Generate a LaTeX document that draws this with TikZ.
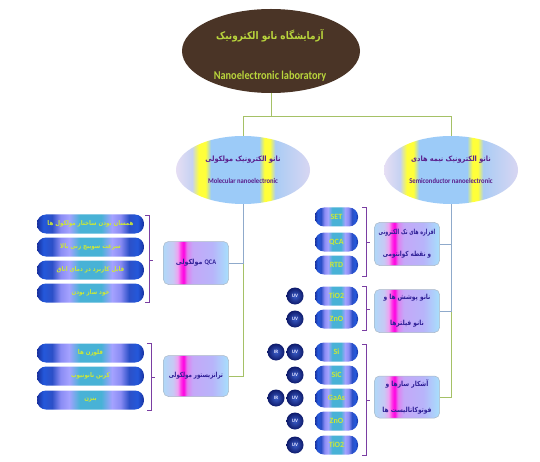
\documentclass[tikz,border=0pt]{standalone}
\usepackage{fontspec}
\usepackage{graphicx}
\setmainfont{Carlito}
\newfontfamily\arabicfont[Script=Arabic]{DejaVu Sans}
\TeXXeTstate=1
\usetikzlibrary{shapes.geometric}
\newcommand\fasq[2]{\scalebox{#1}[1]{\arabicfont #2}}

\definecolor{woodc}{HTML}{4A3426}
\definecolor{woodl}{HTML}{6A4C38}
\definecolor{limec}{HTML}{B9D53C}
\definecolor{conGc}{HTML}{A5C166}
\definecolor{conBc}{HTML}{8FAACB}
\definecolor{brkc}{HTML}{7A3EA2}
\definecolor{ptxt}{HTML}{5A1E8C}
\definecolor{btxt}{HTML}{2E1F96}
\definecolor{bartxt}{HTML}{CDE836}
% ellipse shading colours
\definecolor{ea}{HTML}{E6DEF4}
\definecolor{eb}{HTML}{C6D2F2}
\definecolor{ey}{HTML}{FFFF3A}
\definecolor{es}{HTML}{9CCBF8}
\definecolor{ec}{HTML}{AACCF4}
\definecolor{ed}{HTML}{D8D6F2}
% box shading colours
\definecolor{ba}{HTML}{B0D8F8}
\definecolor{bb}{HTML}{C8C8F4}
\definecolor{bc}{HTML}{F0A0F0}
\definecolor{bd}{HTML}{FF30E6}
\definecolor{bx}{HTML}{FF00E0}
\definecolor{be}{HTML}{E080F0}
\definecolor{bf}{HTML}{C4A8F8}
\definecolor{bg}{HTML}{B8B4FA}
\definecolor{bh}{HTML}{A8E0FC}
% bar shading colours
\definecolor{ra}{HTML}{18309E}
\definecolor{rb}{HTML}{2458DA}
\definecolor{rc}{HTML}{2C50C8}
\definecolor{rd}{HTML}{8A8CF4}
\definecolor{re}{HTML}{A4A2FF}
\definecolor{rf}{HTML}{48B2D6}
\definecolor{uvin}{HTML}{3A5CC8}
\definecolor{uvout}{HTML}{0E1A6A}

\pgfdeclarehorizontalshading{ellsh}{100bp}{color(0bp)=(ea); color(25bp)=(ea); color(31bp)=(eb); color(33.5bp)=(ey); color(36bp)=(ey); color(38bp)=(es); color(56bp)=(es); color(58bp)=(ey); color(60bp)=(ey); color(62bp)=(ec); color(75bp)=(ed); color(100bp)=(ed)}
\pgfdeclarehorizontalshading{boxsh}{100bp}{color(0bp)=(ba); color(25bp)=(ba); color(32.5bp)=(bb); color(36bp)=(bc); color(38.5bp)=(bd); color(40.5bp)=(bx); color(43bp)=(be); color(47.5bp)=(bf); color(62.5bp)=(bg); color(75bp)=(bh); color(100bp)=(bh)}
\pgfdeclarehorizontalshading{barsh}{100bp}{color(0bp)=(ra); color(25bp)=(ra); color(28bp)=(rb); color(32bp)=(rc); color(36bp)=(rd); color(40bp)=(re); color(45bp)=(rf); color(55bp)=(rf); color(60bp)=(re); color(64bp)=(rd); color(68bp)=(rc); color(72bp)=(rb); color(75bp)=(ra); color(100bp)=(ra)}

\tikzset{
  topell/.style={ellipse, fill=woodc, minimum width=178pt, minimum height=84pt, inner sep=0pt,
    path picture={
      \foreach \yy/\aa in {14/3, 22/-4, 31/5, 41/-3, 50/4, 60/-5, 70/3, 82/-2, 90/4}
        \draw[woodl, line width=0.9pt, opacity=0.8] (175,\yy) .. controls (230,\yy+\aa) and (310,\yy-\aa) .. (370,\yy);
    }},
  ell/.style={ellipse, shade, shading=ellsh, minimum width=134pt, minimum height=68pt, inner sep=0pt,
    align=center, text=ptxt, font=\bfseries\fontsize{7.3}{22}\selectfont},
  cbox/.style={rectangle, rounded corners=5pt, shade, shading=boxsh, draw=conBc!80!black!60, line width=0.5pt,
    minimum width=65pt, minimum height=43pt, inner sep=1pt, align=center, text=btxt,
    font=\bfseries\fontsize{7}{26}\selectfont},
  bar/.style={rectangle, rounded corners=9pt, shade, shading=barsh, minimum height=19pt, inner sep=0pt,
    text=bartxt},
  lbar/.style={bar, minimum width=107pt, font=\bfseries\fontsize{6.5}{7}\selectfont},
  sbar/.style={bar, minimum width=43pt, font=\bfseries\fontsize{8}{9}\selectfont},
  ray/.style={circle, minimum size=17pt, inner sep=0pt, inner color=uvin, outer color=uvout,
    text=white!90!blue, font=\bfseries\fontsize{5}{6}\selectfont},
  brk/.style={draw=brkc, line width=0.7pt},
  conB/.style={draw=conBc, line width=0.8pt},
  conG/.style={draw=conGc, line width=0.8pt},
}

\begin{document}
\begin{tikzpicture}[x=1pt, y=-1pt]
\useasboundingbox (0,0) rectangle (540,462);
\fill[white] (0,0) rectangle (540,462);

% top
\node[topell] (top) at (271,51) {};
\node[text=limec, font=\bfseries\fontsize{10.5}{11}\selectfont] (topfa) at (270,36) {\fasq{0.85}{\beginR آزمایشگاه نانو الکترونیک\endR}};
\node[text=limec, font=\bfseries\fontsize{12}{13}\selectfont] (topen) at (270,76) {\scalebox{0.86}[1]{Nanoelectronic laboratory}};

% level 1 ellipses
\node[ell] (ellL) at (243,170) {\fasq{0.9}{\beginR نانو الکترونیک مولکولی\endR}\\\scalebox{0.9}[1]{Molecular nanoelectronic}};
\node[ell] (ellR) at (451,170) {\fasq{0.9}{\beginR نانو الکترونیک نیمه هادی\endR}\\\scalebox{0.9}[1]{Semiconductor nanoelectronic}};

% level 2 boxes left
\node[cbox] (qca) at (196,263) {\fasq{0.9}{\beginR\beginL{\normalfont\bfseries QCA}\endL{} مولکولی\endR}};
\node[cbox, minimum height=41pt] (trans) at (196,376) {\fasq{0.78}{\beginR ترانزیستور مولکولی\endR}};

% level 2 boxes right
\node[cbox, font=\bfseries\fontsize{7}{22}\selectfont] (boxA) at (407,244) {\fasq{0.68}{\beginR افزاره های تک الکترونی\endR}\\\fasq{0.8}{\beginR و نقطه کوانتومی\endR}};
\node[cbox] (boxB) at (407,311) {\fasq{0.85}{\beginR نانو پوشش ها و\endR}\\\fasq{0.85}{\beginR نانو فیلترها\endR}};
\node[cbox, minimum height=42pt] (boxC) at (407,397) {\fasq{0.85}{\beginR آشکار سازها و\endR}\\\fasq{0.85}{\beginR فوتوکاتالیست ها\endR}};

% left bars group 1
\node[lbar] (l1) at (90.5,224) {\fasq{0.85}{\beginR همسان بودن ساختار مولکول ها\endR}};
\node[lbar] (l2) at (90.5,247) {\fasq{0.85}{\beginR سرعت سوییچ زنی بالا\endR}};
\node[lbar] (l3) at (90.5,270) {\fasq{0.85}{\beginR قابل کاربرد در دمای اتاق\endR}};
\node[lbar] (l4) at (90.5,293) {\fasq{0.85}{\beginR خود ساز بودن\endR}};
% left bars group 2
\node[lbar] (m1) at (90.5,353) {\fasq{0.85}{\beginR فلورن ها\endR}};
\node[lbar] (m2) at (90.5,376) {\fasq{0.85}{\beginR کربن نانوتیوب\endR}};
\node[lbar] (m3) at (90.5,400) {\fasq{0.85}{\beginR بنزن\endR}};

% right bars
\node[sbar] (a1) at (336.5,217) {SET};
\node[sbar] (a2) at (336.5,242) {QCA};
\node[sbar] (a3) at (336.5,265) {RTD};
\node[sbar] (b1) at (336.5,296) {TiO2};
\node[sbar] (b2) at (336.5,319) {ZnO};
\node[sbar] (c1) at (336.5,352) {Si};
\node[sbar] (c2) at (336.5,375) {SiC};
\node[sbar] (c3) at (336.5,398) {GaAs};
\node[sbar] (c4) at (336.5,421) {ZnO};
\node[sbar] (c5) at (336.5,445) {TiO2};

% UV / IR
\node[ray] (ub1) at (295,296) {UV};
\node[ray] (ub2) at (295,319) {UV};
\node[ray] (uc1) at (295,352) {UV};
\node[ray] (uc2) at (295,375) {UV};
\node[ray] (uc3) at (295,398) {UV};
\node[ray] (uc4) at (295,421) {UV};
\node[ray] (uc5) at (295,445) {UV};
\node[ray] (ic1) at (276,352) {IR};
\node[ray] (ic3) at (276,398) {IR};

% brackets
\draw[brk] (145,215) -- (149,215) -- (149,302) -- (145,302);
\draw[brk] (149,260) -- (153,260);
\draw[brk] (147,343) -- (151,343) -- (151,410) -- (147,410);
\draw[brk] (151,377) -- (155,377);
\draw[brk] (362,207) -- (366,207) -- (366,276) -- (362,276);
\draw[brk] (366,242) -- (370,242);
\draw[brk] (362,286) -- (366,286) -- (366,330) -- (362,330);
\draw[brk] (366,309) -- (370,309);
\draw[brk] (362,344) -- (366,344) -- (366,455) -- (362,455);
\draw[brk] (366,400) -- (370,400);

% connectors
\coordinate (hub) at (271,116);
\draw[conG] (top.south) -- (hub);
\draw[conG] (hub) -| (ellL.north);
\draw[conG] (hub) -| (ellR.north);
\draw[conG] (ellL.south) |- (trans.east);
\draw[conB] (ellL.south) |- (qca.east);
\draw[conG] (ellR.south) |- (boxC.east);
\draw[conB] (ellR.south) |- (boxB.east);
\draw[conB] (ellR.south) |- (boxA.east);
\end{tikzpicture}
\end{document}
